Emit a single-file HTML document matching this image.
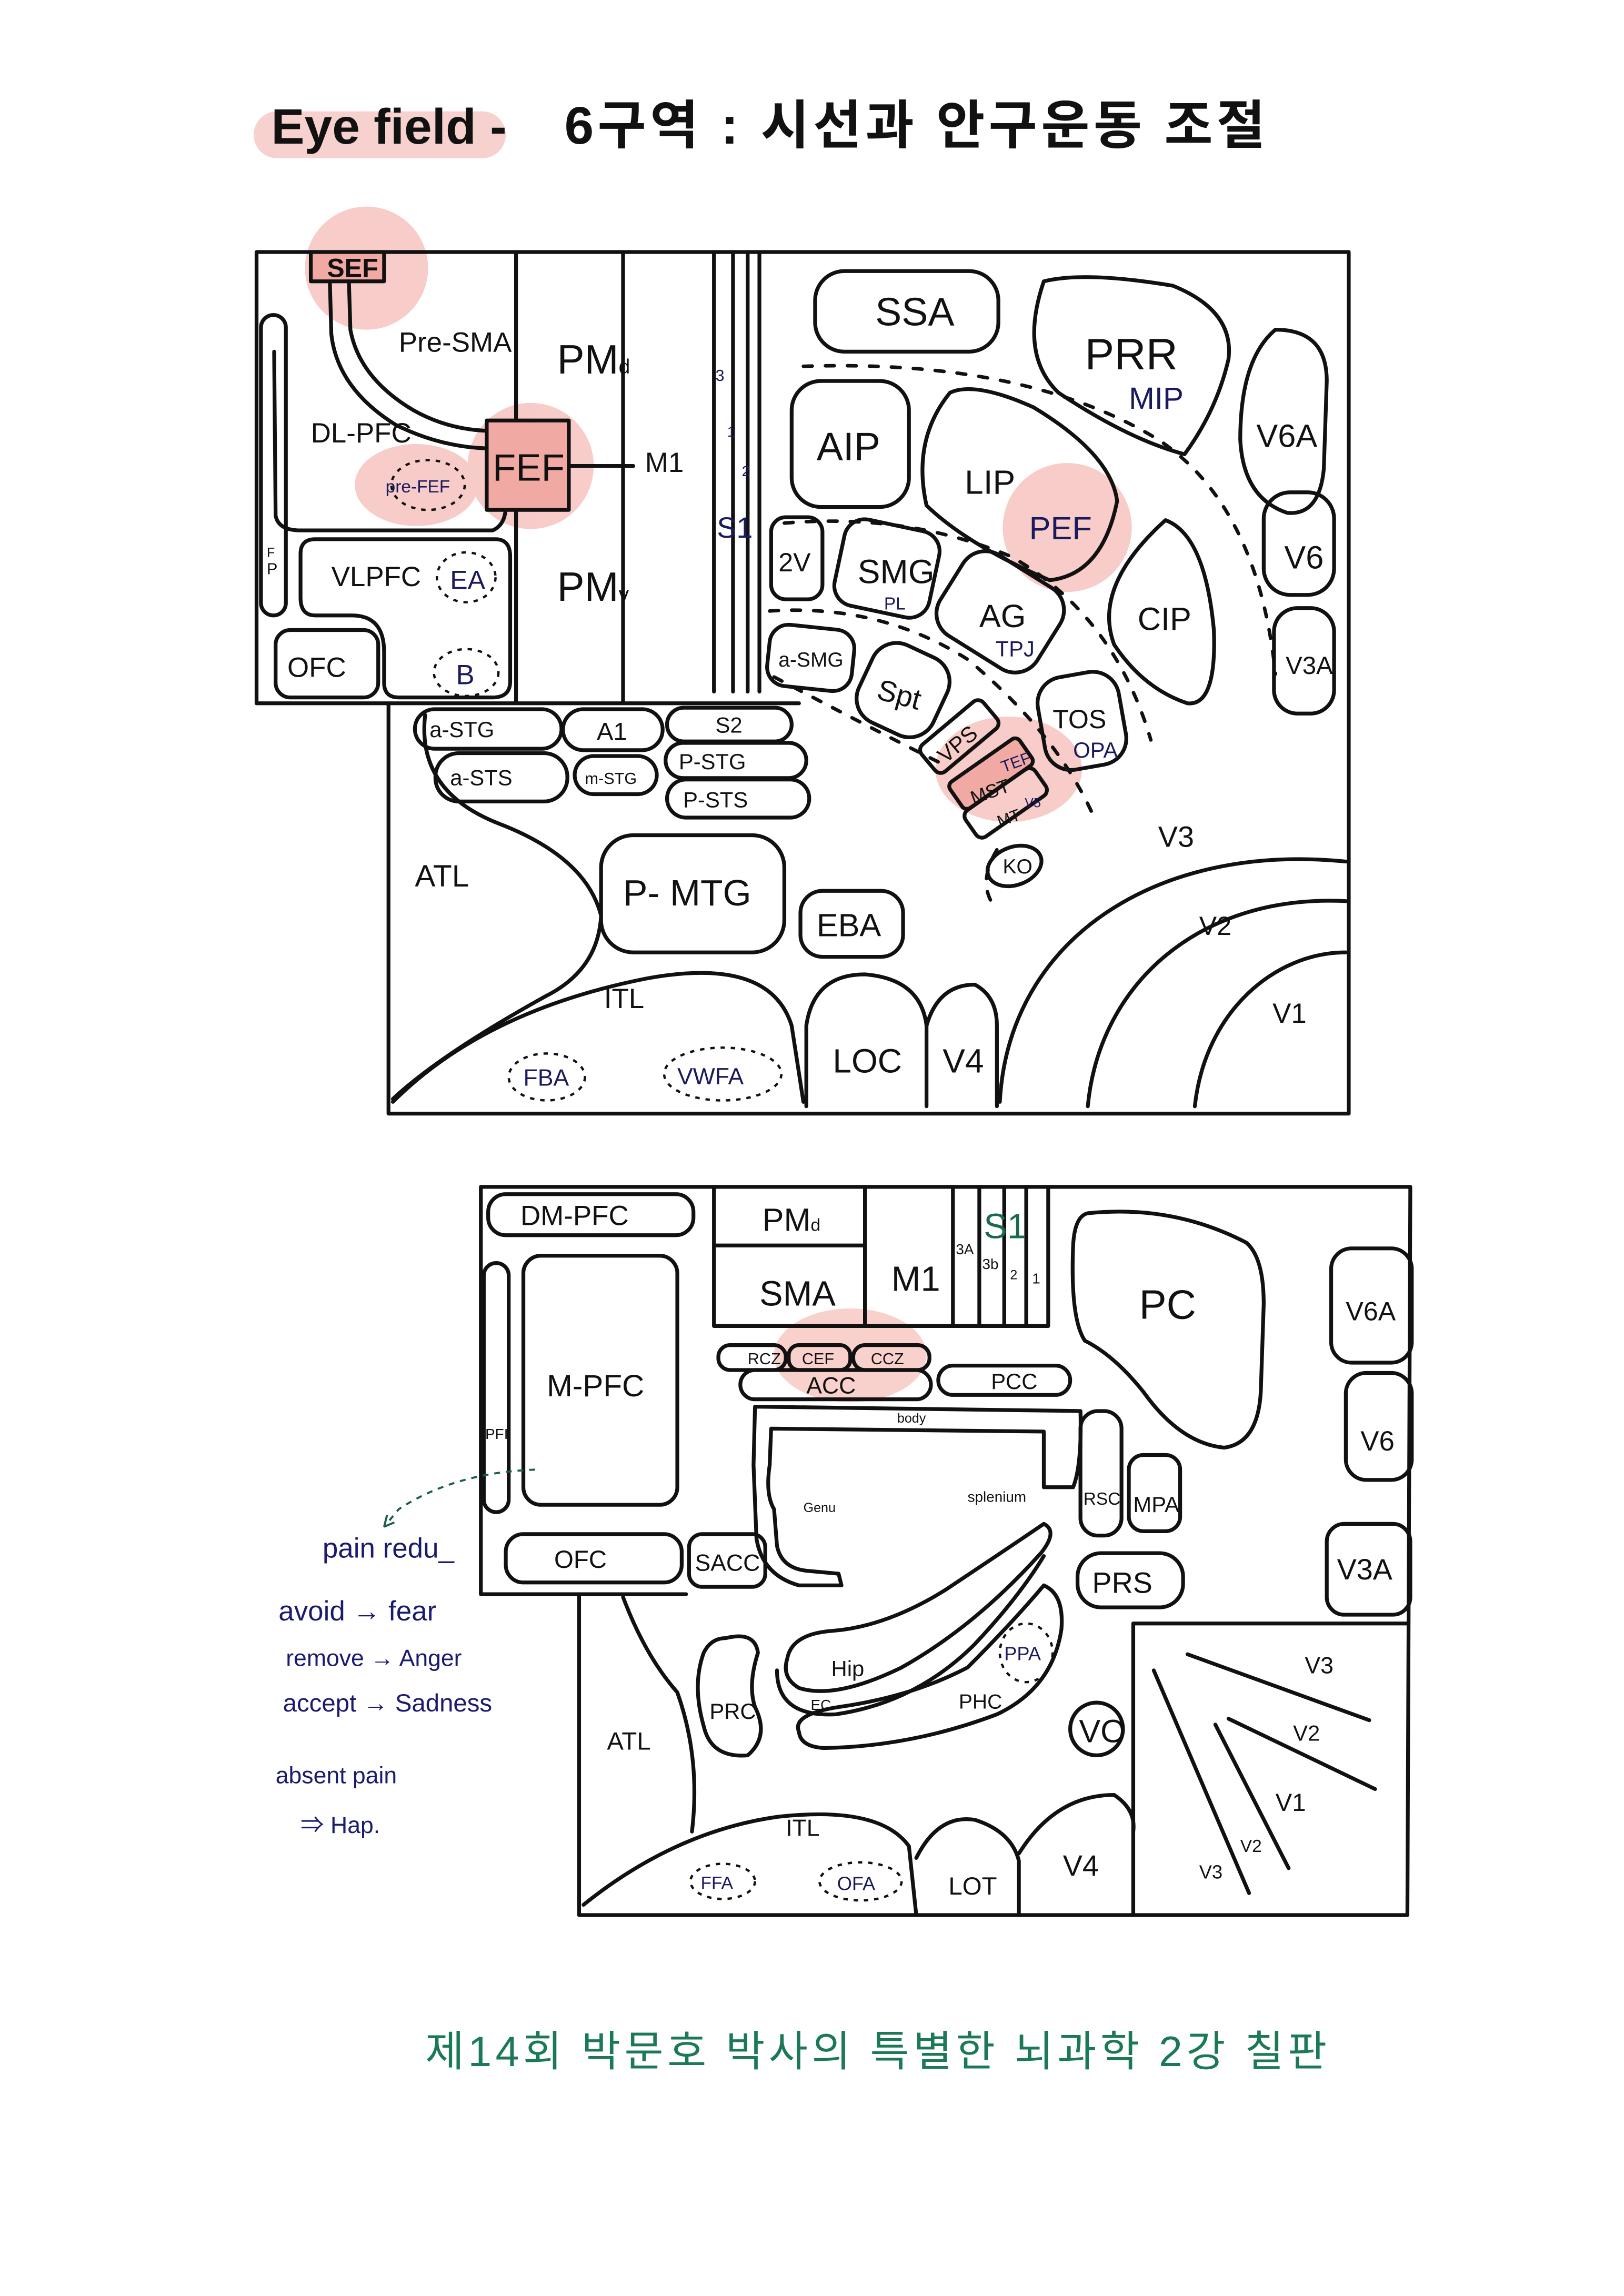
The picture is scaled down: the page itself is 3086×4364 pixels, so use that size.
<!DOCTYPE html>
<html><head><meta charset="utf-8">
<style>
html,body{margin:0;padding:0;background:#fff;}
svg{display:block;}
text{font-family:"Liberation Sans","Noto Sans CJK KR",sans-serif;fill:#111;}
.n{fill:#1a1a5e;}
</style></head>
<body>
<svg width="3086" height="4364" viewBox="0 0 1100 1556" preserveAspectRatio="none" xmlns="http://www.w3.org/2000/svg">
<rect width="1100" height="1556" fill="#fff"/>
<g transform="scale(0.993)">
<!-- Title -->
<rect x="173" y="76" width="172" height="32" rx="16" fill="#f6c9c6" opacity="0.85"/>
<text x="185" y="98" font-size="34" font-weight="bold">Eye field -</text>
<text x="385" y="98" font-size="36" font-weight="bold" textLength="478" lengthAdjust="spacing">6구역 : 시선과 안구운동 조절</text>

<!-- pink highlights top -->
<g fill="#f4b0aa" opacity="0.65">
<circle cx="250" cy="183" r="42"/>
<circle cx="362" cy="318" r="43"/>
<ellipse cx="284" cy="331" rx="42" ry="28"/>
<circle cx="728" cy="360" r="44"/>
<ellipse cx="688" cy="525" rx="50" ry="36"/>
</g>

<g fill="none" stroke="#111" stroke-width="2.6" stroke-linejoin="round" stroke-linecap="round">
<path d="M175,172 L920,172 L920,760 L265,760 L265,480 M175,172 L175,480 L545,480"/>
<path d="M352,172 L352,480 M425,172 L425,480 M487,172 L487,472 M500,172 L500,472 M510,172 L510,472 M518,172 L518,472"/>
<rect x="212" y="172" width="50" height="20" fill="#f1a9a3"/>
<path d="M225,192 L226,228 Q230,265 270,290 Q300,305 332,306 M238,192 L239,225 Q245,258 282,280 Q305,293 332,294"/>
<rect x="178" y="215" width="17" height="205" rx="8.5"/>
<path d="M187,240 L188,352 Q190,362 205,362 L336,362 Q345,358 345,345 L345,335"/>
<rect x="332" y="287" width="56" height="61" fill="#f1a9a3"/>
<path d="M388,318 L432,318"/>
<path d="M215,368 L338,368 Q348,368 348,380 L348,465 Q348,476 336,476 L272,476 Q262,476 262,466 L262,445 Q262,420 240,420 L215,420 Q205,420 205,408 L205,378 Q205,368 215,368 Z"/>
<rect x="188" y="430" width="70" height="46" rx="10"/>
<rect x="283" y="484" width="100" height="27" rx="13.5"/>
<rect x="384" y="484" width="68" height="28" rx="14"/>
<rect x="455" y="483" width="85" height="23" rx="11.5"/>
<rect x="297" y="514" width="90" height="33" rx="16"/>
<rect x="392" y="516" width="56" height="26" rx="13"/>
<rect x="454" y="507" width="96" height="24" rx="12"/>
<rect x="455" y="532" width="97" height="26" rx="13"/>
<path d="M290,488 Q284,540 340,562 Q400,585 410,625 Q408,662 372,680 Q300,720 268,750"/>
<path d="M268,752 Q330,690 440,668 Q525,652 540,700 L548,752"/>
<rect x="410" y="570" width="125" height="80" rx="22"/>
<rect x="546" y="608" width="70" height="45" rx="15"/>
<path d="M550,755 L550,700 Q555,665 590,665 Q628,668 632,700 L632,755"/>
<path d="M632,700 Q640,672 665,672 Q680,680 680,700 L680,755"/>
<path d="M682,752 C688,640 790,575 918,588"/>
<path d="M742,755 C750,670 820,610 918,615"/>
<path d="M815,755 C822,690 870,650 918,650"/>
<rect x="556" y="185" width="125" height="55" rx="20"/>
<path d="M712,192 Q740,185 800,195 Q842,212 838,245 Q830,280 808,310 Q770,300 722,268 Q695,242 712,192Z"/>
<path d="M870,225 Q905,225 905,260 L903,320 Q900,352 878,350 Q848,340 846,300 Q846,245 870,225Z"/>
<rect x="862" y="336" width="48" height="70" rx="18"/>
<rect x="869" y="415" width="41" height="72" rx="16"/>
<rect x="540" y="260" width="80" height="86" rx="20"/>
<path d="M648,268 Q665,260 705,278 Q758,310 762,342 Q752,392 716,396 Q660,372 632,345 Q622,300 648,268Z"/>
<path d="M795,355 Q822,365 828,430 Q830,482 810,480 Q780,470 760,440 Q745,400 795,355Z"/>
<rect x="526" y="353" width="35" height="56" rx="10"/>
<rect x="572" y="358" width="66" height="60" rx="14" transform="rotate(12 605 388)"/>
<rect x="643" y="385" width="78" height="65" rx="18" transform="rotate(32 682 418)"/>
<rect x="524" y="428" width="58" height="42" rx="13" transform="rotate(6 553 449)"/>
<rect x="588" y="442" width="56" height="58" rx="18" transform="rotate(25 616 471)"/>
<rect x="710" y="460" width="56" height="64" rx="18" transform="rotate(-10 738 492)"/>
<rect x="627" y="491" width="55" height="24" rx="5" transform="rotate(-40 654 503)"/>
<rect x="647" y="517" width="58" height="22" rx="4" transform="rotate(-35 676 528)" fill="#f1a9a3"/>
<rect x="657" y="537" width="58" height="22" rx="5" transform="rotate(-35 686 548)"/>
<ellipse cx="692" cy="591" rx="19" ry="13" transform="rotate(-20 692 591)"/>
</g>
<g fill="none" stroke="#111" stroke-width="2.4" stroke-dasharray="6 9" stroke-linecap="round">
<path d="M548,250 Q700,245 790,300 Q858,345 870,460"/>
<path d="M535,357 Q620,350 690,380 Q760,420 785,505"/>
<path d="M525,417 Q600,412 660,450 Q720,500 745,555"/>
<path d="M528,462 Q600,500 640,520 M680,580 Q668,600 676,615"/>
</g>
<g fill="none" stroke="#111" stroke-width="1.6" stroke-dasharray="3 4">
<ellipse cx="292" cy="331" rx="25" ry="17"/>
<ellipse cx="318" cy="394" rx="20" ry="17"/>
<ellipse cx="318" cy="459" rx="22" ry="16"/>
<ellipse cx="373" cy="735" rx="26" ry="16"/>
<ellipse cx="493" cy="733" rx="40" ry="18"/>
</g>
<text x="223" y="189" font-size="18" font-weight="bold">SEF</text>
<text x="272" y="240" font-size="19">Pre-SMA</text>
<text x="380" y="255" font-size="28">PM<tspan font-size="14">d</tspan></text>
<text x="380" y="410" font-size="28">PM<tspan font-size="14">v</tspan></text>
<text x="212" y="302" font-size="19">DL-PFC</text>
<text x="263" y="336" font-size="12" class="n">pre-FEF</text>
<text x="336" y="328" font-size="26">FEF</text>
<text x="440" y="322" font-size="19">M1</text>
<text x="488" y="260" font-size="11" class="n">3</text>
<text x="496" y="298" font-size="10" class="n">1</text>
<text x="506" y="325" font-size="10" class="n">2</text>
<text x="489" y="367" font-size="20" class="n">S1</text>
<text x="182" y="380" font-size="9">F</text><text x="182" y="392" font-size="11">P</text>
<text x="226" y="400" font-size="19">VLPFC</text>
<text x="307" y="402" font-size="18" class="n">EA</text>
<text x="311" y="467" font-size="19" class="n">B</text>
<text x="196" y="462" font-size="19">OFC</text>
<text x="293" y="503" font-size="15">a-STG</text>
<text x="407" y="505" font-size="17">A1</text>
<text x="488" y="500" font-size="15">S2</text>
<text x="307" y="536" font-size="15">a-STS</text>
<text x="399" y="535" font-size="11">m-STG</text>
<text x="463" y="525" font-size="15">P-STG</text>
<text x="466" y="551" font-size="15">P-STS</text>
<text x="283" y="605" font-size="21">ATL</text>
<text x="425" y="618" font-size="25">P- MTG</text>
<text x="557" y="639" font-size="22">EBA</text>
<text x="412" y="688" font-size="19">ITL</text>
<text x="357" y="741" font-size="16" class="n">FBA</text>
<text x="462" y="740" font-size="16" class="n">VWFA</text>
<text x="568" y="732" font-size="23">LOC</text>
<text x="643" y="732" font-size="23">V4</text>
<text x="790" y="578" font-size="20">V3</text>
<text x="818" y="638" font-size="18">V2</text>
<text x="868" y="698" font-size="19">V1</text>
<text x="597" y="222" font-size="27">SSA</text>
<text x="740" y="252" font-size="30">PRR</text>
<text x="770" y="279" font-size="21" class="n">MIP</text>
<text x="857" y="305" font-size="22">V6A</text>
<text x="876" y="388" font-size="22">V6</text>
<text x="877" y="460" font-size="17">V3A</text>
<text x="557" y="314" font-size="27">AIP</text>
<text x="658" y="337" font-size="23">LIP</text>
<text x="702" y="368" font-size="22" class="n">PEF</text>
<text x="776" y="430" font-size="22">CIP</text>
<text x="531" y="390" font-size="18">2V</text>
<text x="585" y="398" font-size="23">SMG</text>
<text x="603" y="416" font-size="12" class="n">PL</text>
<text x="668" y="428" font-size="22">AG</text>
<text x="679" y="448" font-size="15" class="n">TPJ</text>
<text x="531" y="455" font-size="14">a-SMG</text>
<text x="598" y="480" font-size="20" transform="rotate(15 610 475)">Spt</text>
<text x="718" y="497" font-size="18">TOS</text>
<text x="732" y="517" font-size="15" class="n">OPA</text>
<text x="636" y="513" font-size="15" transform="rotate(-40 652 505)">VPS</text>
<text x="683" y="525" font-size="11" class="n" transform="rotate(-20 690 522)">TEF</text>
<text x="662" y="546" font-size="13" transform="rotate(-20 672 542)">MST</text>
<text x="680" y="562" font-size="11" transform="rotate(-20 688 558)">MT</text>
<text x="699" y="551" font-size="9" class="n">V5</text>
<text x="684" y="596" font-size="14">KO</text>

<!-- ===== Bottom diagram ===== -->
<ellipse cx="580" cy="925" rx="52" ry="32" fill="#f4b0aa" opacity="0.6"/>
<g fill="none" stroke="#111" stroke-width="2.6" stroke-linejoin="round" stroke-linecap="round">
<path d="M328,810 L962,810 L960,1307 L395,1307 L395,1088 M328,810 L328,1088 L468,1088"/>
<rect x="333" y="815" width="140" height="28" rx="12"/>
<rect x="357" y="857" width="105" height="170" rx="12"/>
<rect x="330" y="862" width="17" height="170" rx="8.5"/>
<rect x="345" y="1047" width="120" height="33" rx="12"/>
<rect x="470" y="1047" width="52" height="36" rx="9"/>
<path d="M487,810 L487,905 L590,905 M487,850 L590,850 M590,810 L590,905 L650,905 M650,810 L650,905 L715,905 M668,810 L668,905 M685,810 L685,905 M700,810 L700,905 M715,810 L715,905"/>
<path d="M742,828 Q800,822 850,848 Q862,858 862,890 L860,950 Q858,985 835,988 Q805,985 780,950 Q760,925 740,915 Q730,900 732,850 Q733,830 742,828Z"/>
<rect x="908" y="852" width="55" height="78" rx="14"/>
<rect x="918" y="937" width="45" height="73" rx="14"/>
<rect x="905" y="1040" width="57" height="62" rx="12"/>
<rect x="490" y="918" width="46" height="17" rx="8"/>
<rect x="538" y="918" width="42" height="17" rx="7"/>
<rect x="582" y="918" width="52" height="17" rx="8"/>
<rect x="505" y="935" width="130" height="20" rx="10"/>
<rect x="640" y="932" width="90" height="20" rx="10"/>
<path d="M515,960 L737,963 Q738,1000 732,1015 L712,1015 L712,977 L526,975 L525,1000 Q522,1020 528,1030 L530,1055 Q533,1070 550,1072 L572,1074 L574,1082 L545,1082 Q520,1075 516,1050 L514,1000 Z"/>
<rect x="737" y="963" width="28" height="85" rx="12"/>
<rect x="770" y="993" width="35" height="52" rx="10"/>
<rect x="735" y="1060" width="72" height="37" rx="16"/>
<path d="M537,1132 Q540,1115 568,1113 Q605,1110 645,1085 Q690,1055 712,1040 Q722,1045 710,1060 Q665,1110 615,1138 Q570,1160 545,1152 Q533,1145 537,1132Z"/>
<path d="M530,1140 Q530,1172 570,1170 Q625,1162 665,1122 Q695,1090 712,1062"/>
<path d="M545,1182 Q540,1170 572,1165 Q622,1158 660,1138 Q690,1108 712,1082 Q726,1088 724,1112 Q718,1152 680,1170 Q622,1192 562,1193 Q546,1192 545,1182Z"/>
<path d="M495,1118 Q515,1113 517,1128 Q510,1150 515,1165 Q525,1185 510,1198 Q485,1200 480,1178 Q472,1150 480,1128 Q485,1118 495,1118Z"/>
<circle cx="748" cy="1180" r="18"/>
<path d="M425,1090 Q440,1130 462,1155 Q478,1200 472,1250"/>
<path d="M398,1300 Q460,1250 530,1240 Q600,1232 620,1260 L625,1307"/>
<path d="M625,1268 Q640,1238 665,1242 Q690,1250 695,1270 L695,1307"/>
<path d="M695,1265 Q720,1225 760,1225 Q775,1235 773,1250"/>
<path d="M773,1307 L773,1108 L960,1108"/>
<path d="M810,1129 L934,1174 M838,1173 L938,1221 M787,1140 L852,1292 M829,1177 L879,1275"/>
</g>
<g fill="none" stroke="#111" stroke-width="1.6" stroke-dasharray="3 4">
<ellipse cx="700" cy="1128" rx="18" ry="20"/>
<ellipse cx="493" cy="1284" rx="22" ry="12"/>
<ellipse cx="587" cy="1284" rx="28" ry="13"/>
</g>
<path d="M365,1003 Q310,1005 272,1030 L262,1042" fill="none" stroke="#1b5e4a" stroke-width="1.4" stroke-dasharray="4 4"/>
<path d="M262,1042 l2,-8 M262,1042 l7,-3" stroke="#1b5e4a" stroke-width="1.4"/>
<text x="355" y="836" font-size="19">DM-PFC</text>
<text x="520" y="840" font-size="22">PM<tspan font-size="12">d</tspan></text>
<text x="518" y="891" font-size="24">SMA</text>
<text x="608" y="881" font-size="24">M1</text>
<text x="652" y="856" font-size="10">3A</text>
<text x="670" y="866" font-size="10">3b</text>
<text x="689" y="873" font-size="9">2</text>
<text x="704" y="876" font-size="10">1</text>
<text x="671" y="845" font-size="24" style="fill:#1b6b4a">S1</text>
<text x="777" y="900" font-size="28">PC</text>
<text x="918" y="901" font-size="18">V6A</text>
<text x="928" y="990" font-size="19">V6</text>
<text x="912" y="1078" font-size="20">V3A</text>
<text x="373" y="953" font-size="21">M-PFC</text>
<text x="331" y="982" font-size="10">PFI</text>
<text x="378" y="1070" font-size="17">OFC</text>
<text x="474" y="1072" font-size="16">SACC</text>
<text x="510" y="931" font-size="11">RCZ</text>
<text x="547" y="931" font-size="11">CEF</text>
<text x="594" y="931" font-size="11">CCZ</text>
<text x="550" y="951" font-size="16">ACC</text>
<text x="676" y="948" font-size="15">PCC</text>
<text x="612" y="971" font-size="9">body</text>
<text x="548" y="1032" font-size="9">Genu</text>
<text x="660" y="1025" font-size="10">splenium</text>
<text x="739" y="1027" font-size="12">RSC</text>
<text x="773" y="1032" font-size="15">MPA</text>
<text x="745" y="1087" font-size="20">PRS</text>
<text x="567" y="1144" font-size="15">Hip</text>
<text x="553" y="1167" font-size="10">EC</text>
<text x="654" y="1166" font-size="14">PHC</text>
<text x="685" y="1133" font-size="13" class="n">PPA</text>
<text x="484" y="1173" font-size="15">PRC</text>
<text x="736" y="1189" font-size="22">VO</text>
<text x="414" y="1194" font-size="17">ATL</text>
<text x="536" y="1253" font-size="16">ITL</text>
<text x="478" y="1289" font-size="12" class="n">FFA</text>
<text x="571" y="1290" font-size="13" class="n">OFA</text>
<text x="647" y="1293" font-size="17">LOT</text>
<text x="725" y="1280" font-size="20">V4</text>
<text x="890" y="1142" font-size="16">V3</text>
<text x="882" y="1188" font-size="15">V2</text>
<text x="870" y="1236" font-size="17">V1</text>
<text x="846" y="1264" font-size="12">V2</text>
<text x="818" y="1282" font-size="13">V3</text>
<text x="220" y="1063" font-size="19" style="fill:#1a1a6e">pain redu_</text>
<text x="190" y="1106" font-size="19" style="fill:#1a1a6e">avoid  → fear</text>
<text x="195" y="1137" font-size="16" style="fill:#1a1a6e">remove → Anger</text>
<text x="193" y="1168" font-size="17" style="fill:#1a1a6e">accept → Sadness</text>
<text x="188" y="1217" font-size="16" style="fill:#1a1a6e">absent  pain</text>
<text x="205" y="1251" font-size="16" style="fill:#1a1a6e">⇒ Hap.</text>
<text x="290" y="1410" font-size="29" textLength="615" lengthAdjust="spacing" style="fill:#1b7a55">제14회  박문호 박사의 특별한 뇌과학 2강  칠판</text>
</g>
</svg>
</body></html>
